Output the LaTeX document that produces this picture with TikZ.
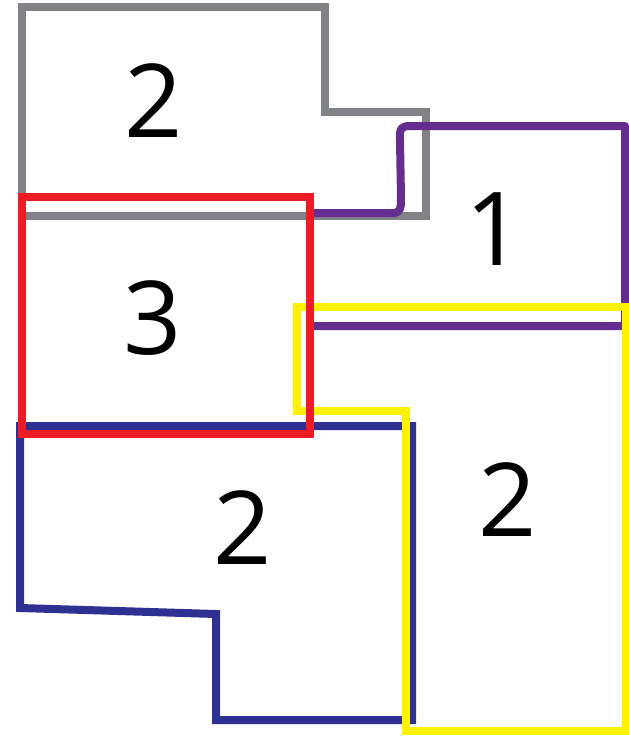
\documentclass[tikz,border=0pt]{standalone}
\usepackage{fontspec}
\setmainfont{Open Sans}
\definecolor{cgray}{HTML}{808285}
\definecolor{cpurple}{HTML}{662D91}
\definecolor{cred}{HTML}{ED1C24}
\definecolor{cblue}{HTML}{2E3192}
\definecolor{cyellow}{HTML}{FFF200}
\begin{document}
\begin{tikzpicture}[x=1pt,y=-1pt,
  outline/.style={line width=8pt,line join=miter},
  num/.style={inner sep=0pt,font=\fontsize{102}{102}\selectfont}]
\useasboundingbox[fill=white] (0,0) rectangle (629,740);
% gray
\draw[outline,cgray] (22,7) -- (325,7) -- (325,112) -- (426,112) -- (426,216) -- (22,216) -- cycle;
% blue
\draw[outline,cblue] (20,426) -- (412,426) -- (412,720) -- (216,720) -- (216,614) -- (20,608) -- cycle;
% purple
\draw[outline,cpurple,line join=round] (313,213) -- (393,213) .. controls (401,213) and (401,207) .. (401,198) -- (400,140) .. controls (399,128) and (402,126) .. (410,126) -- (625,126) -- (625,326) -- (313,326);
% yellow
\draw[outline,cyellow] (297,307) -- (626,307) -- (626,731) -- (406,731) -- (406,411) -- (297,411) -- cycle;
% red
\draw[outline,cred] (22,197) rectangle (310,434);
% labels
\node[num] (g) at (154,101) {2};
\node[num] (p) at (495,229) {1};
\node[num] (r) at (153,318) {3};
\node[num] (b) at (243,528) {2};
\node[num] (y) at (508,500) {2};
\end{tikzpicture}
\end{document}
